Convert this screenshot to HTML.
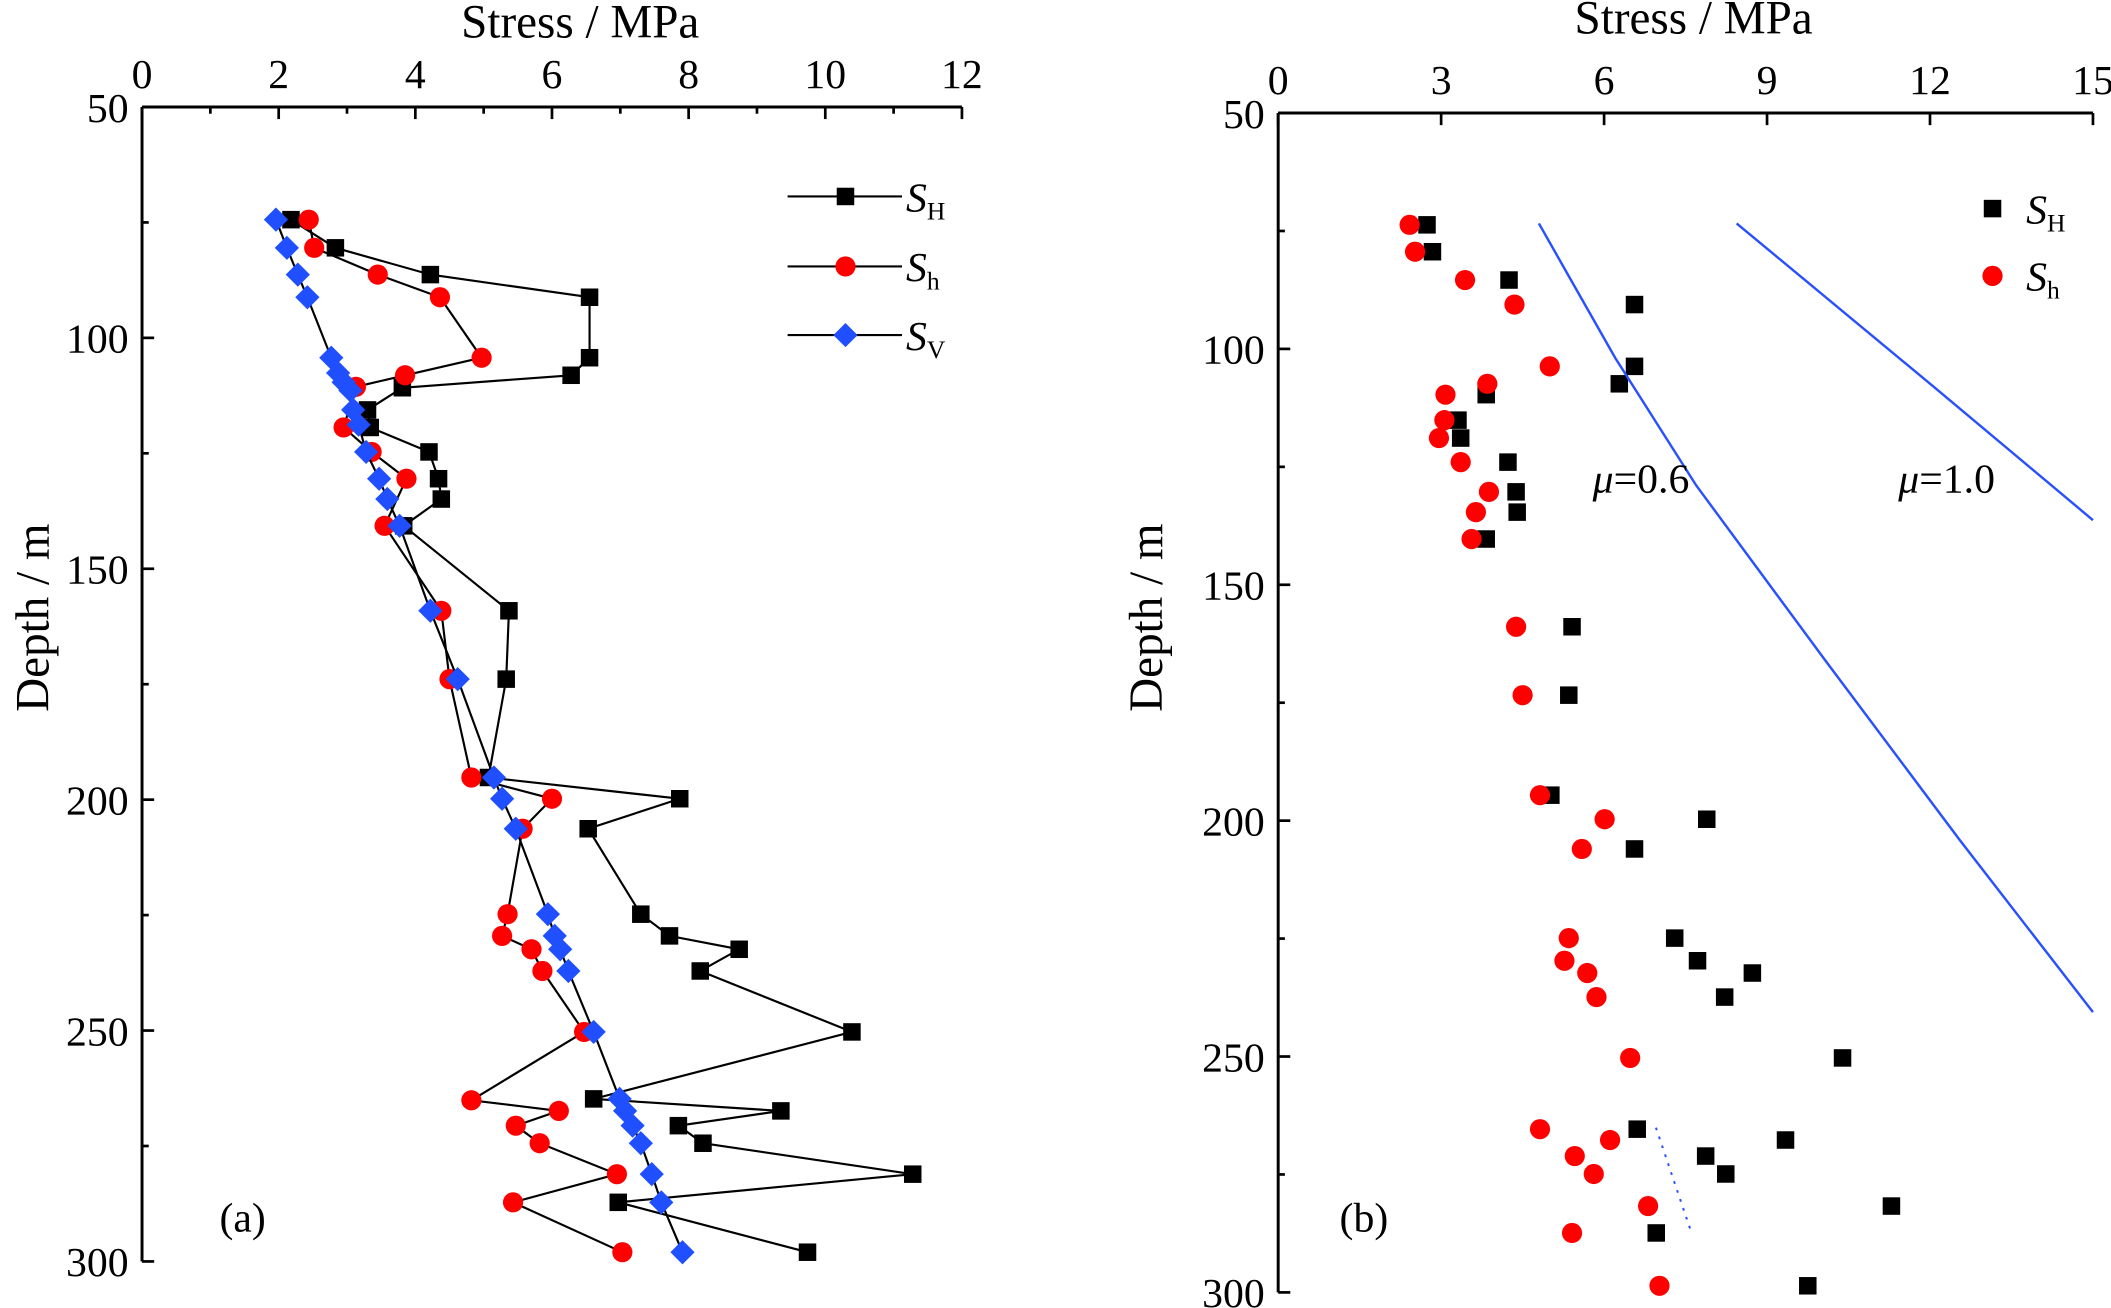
<!DOCTYPE html>
<html><head><meta charset="utf-8"><style>
html,body{margin:0;padding:0;background:#fff;}
svg{display:block;font-family:"Liberation Serif",serif;}
</style></head><body>
<svg id="fig" width="2111" height="1308" viewBox="0 0 1568 972" preserveAspectRatio="none" xmlns="http://www.w3.org/2000/svg"></svg>
<script>
// Panel (a) data
const aSHx = [2.18,2.83,4.22,6.55,6.55,6.28,3.81,3.30,3.34,4.20,4.34,4.38,3.83,5.37,5.33,5.07,7.87,6.53,7.30,7.72,8.74,8.17,10.39,6.61,9.35,7.85,8.21,11.28,6.97,9.74];
const aSHd = [74.4,80.5,86.3,91.2,104.3,108.1,110.8,115.6,119.4,124.7,130.5,134.9,140.7,159.1,173.9,195.2,199.8,206.3,224.8,229.5,232.4,237.1,250.3,264.8,267.4,270.6,274.4,281.1,287.2,298.0];
const aShx = [2.44,2.52,3.45,4.36,4.97,3.85,3.13,2.95,3.36,3.87,3.55,4.38,4.50,4.82,6.00,5.57,5.35,5.27,5.70,5.86,6.47,4.82,6.10,5.47,5.82,6.95,5.43,7.03];
const aShd = [74.4,80.5,86.3,91.2,104.3,108.1,110.6,119.4,124.7,130.5,140.7,159.1,173.9,195.2,199.8,206.3,224.8,229.5,232.4,237.1,250.3,265.1,267.4,270.6,274.4,281.1,287.2,298.0];
const aSVx = [1.96,2.12,2.28,2.42,2.77,2.87,2.95,3.05,3.09,3.17,3.28,3.47,3.59,3.77,4.22,4.62,5.15,5.27,5.47,5.94,6.04,6.12,6.24,6.61,6.99,7.07,7.18,7.30,7.46,7.60,7.91];
const aSVd = [74.4,80.5,86.3,91.2,104.3,107.6,109.6,111.4,115.6,118.8,124.7,130.5,134.9,140.7,159.1,173.9,195.2,199.8,206.3,224.8,229.5,232.4,237.1,250.3,264.8,267.4,270.6,274.4,281.1,287.2,298.0];
const aXTicks = [0,2,4,6,8,10,12];
const depthTicks = [50,100,150,200,250,300];
// Panel (b) data
const bSHx = [2.74,2.84,4.25,6.56,6.56,6.28,3.83,3.31,3.36,4.23,4.38,4.40,3.83,5.41,5.35,5.02,7.89,6.56,7.30,7.72,8.73,8.22,10.39,6.61,9.34,7.87,8.24,11.29,6.96,9.75];
const bShx = [2.42,2.52,3.44,4.35,5.00,3.85,3.08,3.06,2.96,3.36,3.88,3.64,3.56,4.38,4.50,4.82,6.01,5.59,5.35,5.27,5.69,5.86,6.48,4.82,6.11,5.46,5.81,6.81,5.41,7.02];
const bDepth = [73.7,79.4,85.4,90.6,103.7,107.4,109.7,115.1,118.9,124.0,130.3,134.6,140.3,158.9,173.4,194.6,199.7,206.0,224.9,229.7,232.3,237.4,250.3,265.4,267.7,271.1,274.9,281.7,287.4,298.6];
const bXTicks = [0,3,6,9,12,15];
const mu06x = [4.80,5.42,6.21,7.70,10.07,12.54,15];
const mu06d = [73.4,86,102,129,166,204,240.6];
const mu10x = [8.44,12.16,15];
const mu10d = [73.4,108.9,136.3];

const NS="http://www.w3.org/2000/svg";
const svg=document.getElementById('fig');
function el(tag,attrs,parent,text){const e=document.createElementNS(NS,tag);for(const k in attrs)e.setAttribute(k,attrs[k]);if(text!==undefined)e.textContent=text;(parent||svg).appendChild(e);return e;}

const ax={x0:105.5,x1:714.5,xmax:12,y0:79.5,y1:937.4};
const bx={x0:949.4,x1:1554.6,xmax:15,y0:84,y1:960.4};
function X(p,v){return p.x0+(p.x1-p.x0)*v/p.xmax;}
function Y(p,d){return p.y0+(p.y1-p.y0)*(d-50)/250;}

function drawAxes(p,xt,minorX,minorD,name){
  const g=el('g',{},svg);
  
  
  el('line',{x1:p.x0,y1:p.y0,x2:p.x1,y2:p.y0,stroke:'#000','stroke-width':2.2},g);
  el('line',{x1:p.x0,y1:p.y0,x2:p.x0,y2:p.y1,stroke:'#000','stroke-width':2.2},g);
  xt.forEach(v=>{const x=X(p,v);el('line',{x1:x,y1:p.y0,x2:x,y2:p.y0+9,stroke:'#000','stroke-width':2},g);
    const t=el('text',{x:x,y:p.y0-14,'font-size':31,'text-anchor':'middle'},g,String(v));
    });
  minorX.forEach(v=>{const x=X(p,v);el('line',{x1:x,y1:p.y0,x2:x,y2:p.y0+5,stroke:'#000','stroke-width':2},g);});
  depthTicks.forEach(d=>{const y=Y(p,d);el('line',{x1:p.x0,y1:y,x2:p.x0+9,y2:y,stroke:'#000','stroke-width':2},g);
    const t=el('text',{x:p.x0-10,y:y+11,'font-size':31,'text-anchor':'end'},g,String(d));
    });
  minorD.forEach(d=>{const y=Y(p,d);el('line',{x1:p.x0,y1:y,x2:p.x0+5,y2:y,stroke:'#000','stroke-width':2},g);});
}
drawAxes(ax,aXTicks,[1,3,5,7,9,11],[75,125,175,225,275],'panel-a');
drawAxes(bx,bXTicks,[],[75,125,175,225,275],'panel-b');

function title(x,y,txt,rot,name){const t=el('text',{x:x,y:y,'font-size':35,'text-anchor':'middle',transform:rot?`rotate(-90 ${x} ${y})`:''},svg,txt);
  }
title(431,28,'Stress / MPa',false,'panel-a-x-axis-title');
title(36,459,'Depth / m',true,'panel-a-y-axis-title');
title(1258,25,'Stress / MPa',false,'panel-b-x-axis-title');
title(863,459,'Depth / m',true,'panel-b-y-axis-title');

function sq(g,x,y,s){el('rect',{x:x-s/2,y:y-s/2,width:s,height:s,fill:'#000'},g);}
function ci(g,x,y,r){el('circle',{cx:x,cy:y,r:r,fill:'#f00'},g);}
function di(g,x,y,r){el('polygon',{points:`${x},${y-r} ${x+r},${y} ${x},${y+r} ${x-r},${y}`,fill:'#1f4fff'},g);}

function series(p,xs,ds,marker,name,line){
  const g=el('g',{},svg);
  
  
  if(line){el('polyline',{points:xs.map((v,i)=>X(p,v)+','+Y(p,ds[i])).join(' '),fill:'none',stroke:'#000','stroke-width':1.6},g);}
  xs.forEach((v,i)=>marker(g,X(p,v),Y(p,ds[i])));
}
series(ax,aSHx,aSHd,(g,x,y)=>sq(g,x,y,13),'panel-a-series-SH',true);
series(ax,aShx,aShd,(g,x,y)=>ci(g,x,y,7.5),'panel-a-series-Sh',true);
series(ax,aSVx,aSVd,(g,x,y)=>di(g,x,y,9),'panel-a-series-SV',true);

const legA=[['H',146,(g,x,y)=>sq(g,x,y,13)],['h',198,(g,x,y)=>ci(g,x,y,7.5)],['V',249,(g,x,y)=>di(g,x,y,9)]];
legA.forEach(([sub,y,m])=>{const g=el('g',{},svg);
  
  
  el('line',{x1:585,y1:y,x2:670,y2:y,stroke:'#000','stroke-width':1.6},g);m(g,628,y);
  const t=el('text',{x:673,y:y+11,'font-size':31,'font-style':'italic'},g,'S');
  el('tspan',{'font-size':19,'font-style':'normal',dy:6},t,sub);});

series(bx,bSHx,bDepth,(g,x,y)=>sq(g,x,y,13),'panel-b-series-SH',false);
series(bx,bShx,bDepth,(g,x,y)=>ci(g,x,y,7.5),'panel-b-series-Sh',false);
function mline(xs,ds,name){const l=el('polyline',{points:xs.map((v,i)=>X(bx,v)+','+Y(bx,ds[i])).join(' '),fill:'none',stroke:'#2850ff','stroke-width':1.8,'stroke-linejoin':'round'});
  }
mline(mu06x,mu06d,'friction-line-mu-0.6');
mline(mu10x,mu10d,'friction-line-mu-1.0');
el('line',{x1:1230,y1:838,x2:1256,y2:915,stroke:'#2850ff','stroke-width':1.5,'stroke-dasharray':'2,5'});
[['0.6',1183],['1.0',1410]].forEach(([v,x])=>{const t=el('text',{x:x,y:366,'font-size':31},svg);
  
  el('tspan',{'font-style':'italic'},t,'μ');el('tspan',{},t,'=' + v);});
[['H',155,(g,x,y)=>sq(g,x,y,13)],['h',205,(g,x,y)=>ci(g,x,y,7.5)]].forEach(([sub,y,m])=>{const g=el('g',{},svg);
  
  
  m(g,1480,y);
  const t=el('text',{x:1505,y:y+11,'font-size':31,'font-style':'italic'},g,'S');
  el('tspan',{'font-size':19,'font-style':'normal',dy:6},t,sub);});
const pa=el('text',{x:163,y:915,'font-size':31},svg,'(a)');

const pb=el('text',{x:995,y:915,'font-size':31},svg,'(b)');

</script>
</body></html>
